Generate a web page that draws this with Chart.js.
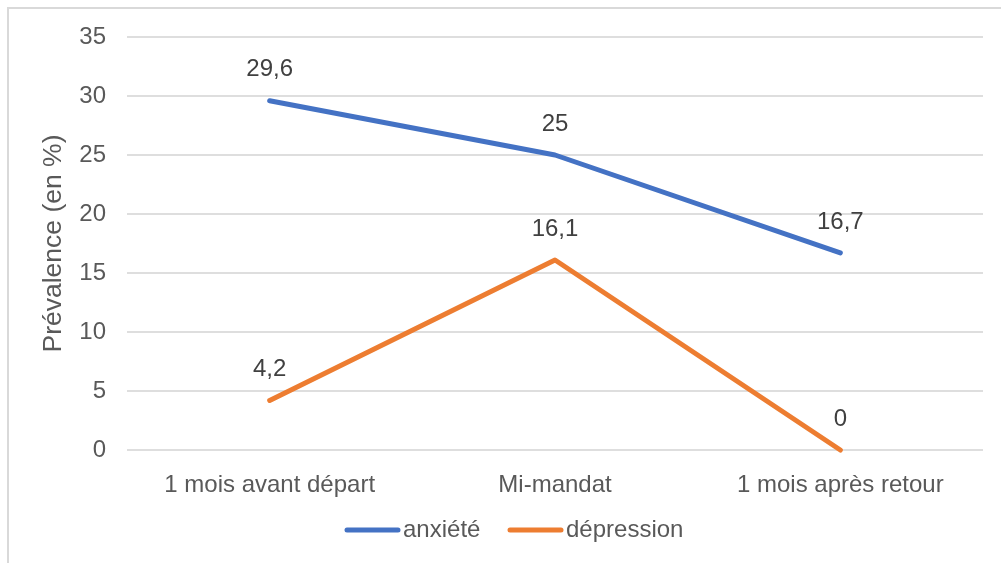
<!DOCTYPE html>
<html>
<head>
<meta charset="utf-8">
<script src="https://cdn.jsdelivr.net/npm/chart.js@4/dist/chart.umd.min.js"></script>
<style>
    html, body { margin: 0; padding: 0; background: #fff; }
    #wrap { position: relative; width: 1001px; height: 563px; overflow: hidden; }
    #frame { position: absolute; left: 7px; top: 7px; width: 1100px; height: 700px; border: 2px solid #d9d9d9; }
    #chart { position: absolute; left: 0; top: 0; }
</style>
</head>
<body>
<div id="wrap">
    <div id="frame"></div>
    <canvas id="chart" width="1001" height="563"></canvas>
</div>
<script>
// Prévalence anxiété / dépression
const categories = ['1 mois avant départ', 'Mi-mandat', '1 mois après retour'];
const anxiete = [29.6, 25, 16.7];
const depression = [4.2, 16.1, 0];
const seriesNames = ['anxiété', 'dépression'];
const seriesColors = ['#4472C4', '#ED7D31'];
const yMin = 0, yMax = 35, yStep = 5;

const FONT = 'Arial, "Liberation Sans", sans-serif';

const valueLabels = {
    id: 'valueLabels',
    afterDatasetsDraw(chart) {
        const ctx = chart.ctx;
        ctx.save();
        ctx.font = '24px ' + FONT;
        ctx.fillStyle = '#404040';
        ctx.textAlign = 'center';
        ctx.textBaseline = 'middle';
        chart.data.datasets.forEach((ds, i) => {
            chart.getDatasetMeta(i).data.forEach((pt, j) => {
                ctx.fillText(String(ds.data[j]).replace('.', ','), pt.x, pt.y - 31);
            });
        });
        ctx.restore();
    }
};

// legend drawn by hand: long thick line then the name
const lineLegend = {
    id: 'lineLegend',
    afterDraw(chart) {
        const ctx = chart.ctx;
        const y = 530;
        const starts = [345, 508];
        ctx.save();
        ctx.font = '24px ' + FONT;
        ctx.textBaseline = 'middle';
        ctx.textAlign = 'left';
        chart.data.datasets.forEach((ds, i) => {
            const x = starts[i];
            ctx.strokeStyle = ds.borderColor;
            ctx.lineWidth = 5;
            ctx.lineCap = 'round';
            ctx.beginPath();
            ctx.moveTo(x + 2, y);
            ctx.lineTo(x + 53, y);
            ctx.stroke();
            ctx.fillStyle = '#595959';
            ctx.fillText(ds.label, x + 58, y);
        });
        ctx.restore();
    }
};

const ctx = document.getElementById('chart').getContext('2d');
new Chart(ctx, {
    type: 'line',
    data: {
        labels: categories,
        datasets: [
            { label: seriesNames[0], data: anxiete, borderColor: seriesColors[0], backgroundColor: seriesColors[0] },
            { label: seriesNames[1], data: depression, borderColor: seriesColors[1], backgroundColor: seriesColors[1] }
        ]
    },
    options: {
        responsive: false,
        animation: false,
        layout: { padding: { left: 0, right: 18, top: 37, bottom: 0 } },
        elements: {
            line: { borderWidth: 5, tension: 0, borderCapStyle: 'round', borderJoinStyle: 'round' },
            point: { radius: 0, hoverRadius: 0 }
        },
        datasets: { line: { clip: false } },
        plugins: {
            legend: { display: false },
            tooltip: { enabled: false }
        },
        scales: {
            x: {
                offset: true,
                grid: { display: false },
                border: { display: false },
                ticks: { color: '#595959', font: { size: 24, family: FONT }, padding: 13, maxRotation: 0 },
                afterFit(s) { s.height = 113; }
            },
            y: {
                min: yMin,
                max: yMax,
                grid: { color: '#dedede', lineWidth: 2, drawTicks: false },
                border: { display: false },
                ticks: { stepSize: yStep, color: '#595959', font: { size: 24, family: FONT }, padding: 21 },
                title: {
                    display: true,
                    text: 'Prévalence (en %)',
                    color: '#595959',
                    font: { size: 26.5, family: FONT },
                    padding: { top: 38, bottom: 0 }
                },
                afterFit(s) { s.width = 127; }
            }
        }
    },
    plugins: [valueLabels, lineLegend]
});
</script>
</body>
</html>
